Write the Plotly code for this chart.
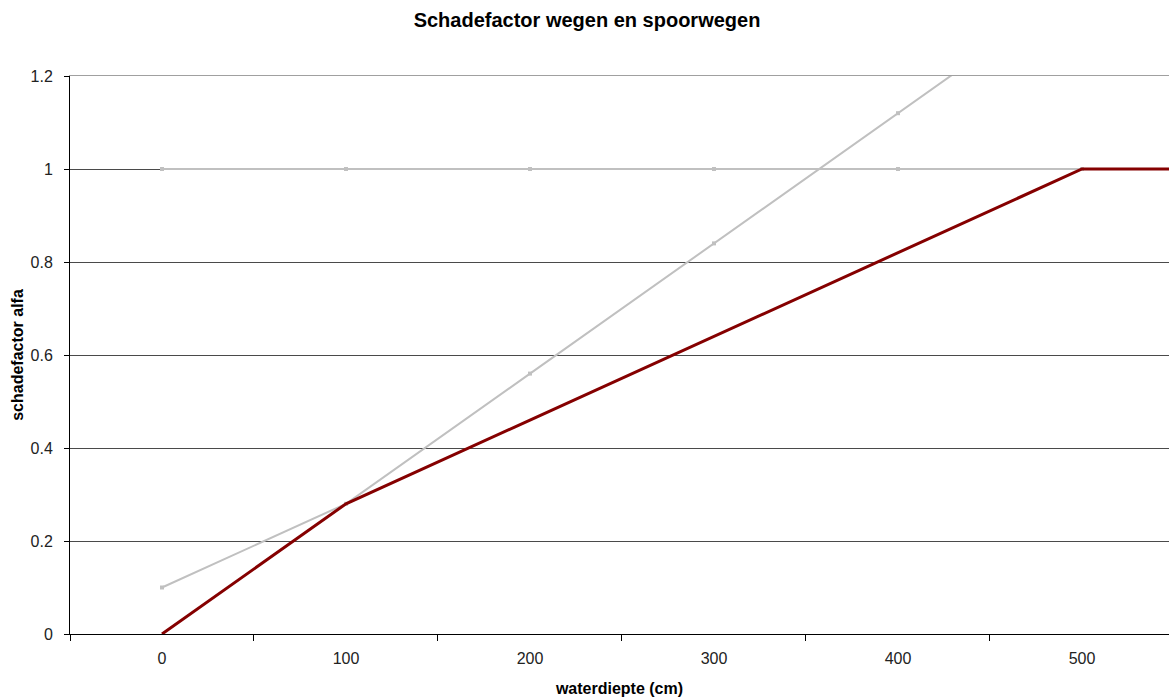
import plotly.graph_objects as go

waterdiepte = [0, 100, 200, 300, 400, 500, 600]
alfa_wegen = [0.0, 0.28, 0.46, 0.64, 0.82, 1.0, 1.0]
grijs_vlak = [1.0, 1.0, 1.0, 1.0, 1.0, 1.0, 1.0]
grijs_schuin = [0.1, 0.28, 0.56, 0.84, 1.12, 1.4, 1.68]
x_ticks = [0, 100, 200, 300, 400, 500]
y_ticks = [0, 0.2, 0.4, 0.6, 0.8, 1, 1.2]

fig = go.Figure()
fig.add_trace(go.Scatter(x=waterdiepte, y=grijs_vlak, mode="lines+markers",
                         line=dict(color="#c0c0c0", width=2),
                         marker=dict(symbol="square", size=4, color="#c0c0c0"),
                         showlegend=False))
fig.add_trace(go.Scatter(x=waterdiepte, y=grijs_schuin, mode="lines+markers",
                         line=dict(color="#c0c0c0", width=2),
                         marker=dict(symbol="square", size=4, color="#c0c0c0"),
                         showlegend=False))
fig.add_trace(go.Scatter(x=waterdiepte, y=alfa_wegen, mode="lines",
                         line=dict(color="#850000", width=3),
                         showlegend=False))

fig.update_layout(
    width=1169, height=697,
    margin=dict(l=70, r=0, t=76, b=63, autoexpand=False),
    paper_bgcolor="white", plot_bgcolor="white",
    font=dict(family="Liberation Sans, Arial, sans-serif", size=16, color="#222"),
    title=dict(text="<b>Schadefactor wegen en spoorwegen</b>", x=587 / 1169, xanchor="center",
               y=1 - 20 / 697, yanchor="middle", font=dict(size=20, color="#000")),
    xaxis=dict(range=[-50, 547.3], tickvals=x_ticks, ticktext=[str(v) for v in x_ticks],
               ticks="", showgrid=False, zeroline=False,
               showline=True, linecolor="#000", linewidth=1,
               ticklabelstandoff=10, automargin=False,
               minor=dict(ticks="outside", tick0=-50, dtick=100, ticklen=6,
                          tickcolor="#000", showgrid=False),
               title=dict(text="<b>waterdiepte (cm)</b>", standoff=17,
                          font=dict(size=16, color="#000"))),
    xaxis2=dict(overlaying="x", side="top", matches="x", showline=True,
                linecolor="#a0a0a0", linewidth=1, showticklabels=False,
                ticks="", showgrid=False, zeroline=False, automargin=False),
    yaxis=dict(range=[0, 1.2], tickvals=y_ticks, ticks="outside", ticklen=5,
               tickcolor="#000", showgrid=True, gridcolor="#4a4a4a", gridwidth=1,
               zeroline=False, showline=True, linecolor="#000", linewidth=1,
               ticklabelstandoff=8, automargin=False,
               title=dict(text="<b>schadefactor alfa</b>", standoff=2,
                          font=dict(size=16, color="#000"))),
)
# invisible helper trace so the top axis line is drawn
fig.add_trace(go.Scatter(x=[None], y=[None], xaxis="x2", yaxis="y",
                         showlegend=False, hoverinfo="skip"))

fig.write_html("out.html", config={"displayModeBar": False},
               post_script="document.body.style.margin='0';")
